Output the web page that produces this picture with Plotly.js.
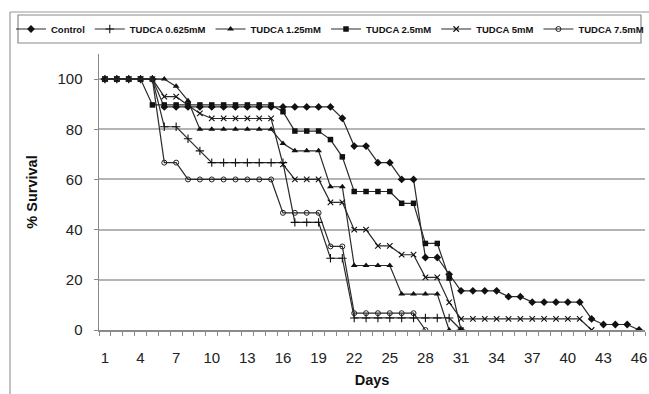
<!DOCTYPE html>
<html>
<head>
<meta charset="utf-8">
<script src="https://cdn.plot.ly/plotly-3.0.1.min.js"></script>
<style>html,body{margin:0;padding:0;background:#fff;}#chart{width:649px;height:394px;}</style>
</head>
<body>
<div id="chart"></div>
<script>
// ---- data ----
const days = [1,2,3,4,5,6,7,8,9,10,11,12,13,14,15,16,17,18,19,20,21,22,23,24,25,26,27,28,29,30,31,32,33,34,35,36,37,38,39,40,41,42,43,44,45,46];
const xTickLabels = [1,4,7,10,13,16,19,22,25,28,31,34,37,40,43,46];
const yTickLabels = [0,20,40,60,80,100];
const seriesNames = ["Control","TUDCA 0.625mM","TUDCA 1.25mM","TUDCA 2.5mM","TUDCA 5mM","TUDCA 7.5mM"];

const control = [100,100,100,100,100,
  88.9,88.9,88.9,88.9,88.9,88.9,88.9,88.9,88.9,88.9,88.9,88.9,88.9,88.9,88.9,
  84.4,73.3,73.3,66.7,66.7,60,60,28.9,28.9,22.2,
  15.6,15.6,15.6,15.6,13.3,13.3,11.1,11.1,11.1,11.1,11.1,4.4,2.2,2.2,2.2,0];
const tudca0625 = [100,100,100,100,100,81,81,76.2,71.4,
  66.7,66.7,66.7,66.7,66.7,66.7,66.7,42.9,42.9,42.9,28.6,28.6,
  4.8,4.8,4.8,4.8,4.8,4.8,4.8,4.8,4.8,0];
const tudca125 = [100,100,100,100,100,100,97.1,91.4,
  80,80,80,80,80,80,80,74.3,71.4,71.4,71.4,57.1,57.1,
  25.7,25.7,25.7,25.7,14.3,14.3,14.3,14.3,0];
const tudca25 = [100,100,100,100,
  89.7,89.7,89.7,89.7,89.7,89.7,89.7,89.7,89.7,89.7,89.7,
  87,79.3,79.3,79.3,75.9,69,55.2,55.2,55.2,55.2,50.5,50.5,34.5,34.5,20.7,0];
const tudca5 = [100,100,100,100,100,93,93,89.6,86.3,
  84.3,84.3,84.3,84.3,84.3,84.3,66,60,60,60,50.9,50.9,40,40,33.5,33.5,30,30,21,21,11,
  4.4,4.4,4.4,4.4,4.4,4.4,4.4,4.4,4.4,4.4,4.4,0];
const tudca75 = [100,100,100,100,100,66.7,66.7,
  60,60,60,60,60,60,60,60,46.7,46.7,46.7,46.7,33.3,33.3,
  6.7,6.7,6.7,6.7,6.7,6.7,0];

const allValues = [control, tudca0625, tudca125, tudca25, tudca5, tudca75];
const markerStyles = [
  {symbol:'diamond', size:6, color:'#111'},
  {symbol:'cross-thin', size:6, color:'#111', line:{width:1.1,color:'#111'}},
  {symbol:'triangle-up', size:6, color:'#111'},
  {symbol:'square', size:5.5, color:'#111'},
  {symbol:'x-thin', size:5.5, color:'#111', line:{width:1.1,color:'#111'}},
  {symbol:'circle-open', size:5, color:'#222', line:{width:1,color:'#222'}}
];

const traces = allValues.map((vals, i) => ({
  type:'scatter', mode:'lines+markers', name: seriesNames[i],
  x: days.slice(0, vals.length), y: vals,
  line:{color:'#2a2a2a', width:1.2},
  marker: markerStyles[i],
  hoverinfo:'skip'
}));

// layout geometry (pixels)
const L = 99, R = 4, T = 54, B = 64, W = 649, H = 394;
const pw = W - L - R, ph = H - T - B;
const px = v => (v - L) / pw;
const py = v => (H - B - v) / ph;

const minorVals = [];
for (let k = 0; k <= days.length; k++) minorVals.push(days[0] - 0.5 + k);

const layout = {
  width: W, height: H,
  margin:{l:L, r:R, t:T, b:B, pad:0},
  paper_bgcolor:'#fff', plot_bgcolor:'#fff',
  font:{family:'Liberation Sans, Arial, sans-serif', color:'#222'},
  showlegend:true,
  legend:{orientation:'h', x:px(18), xanchor:'left', y:py(29), yanchor:'middle',
    borderwidth:0, bgcolor:'rgba(0,0,0,0)',
    font:{family:'Liberation Sans, Arial, sans-serif', size:9.5, color:'#111', weight:'bold'},
    itemwidth:30, tracegroupgap:0},
  xaxis:{
    range:[0.5, 46.5], tickmode:'array', tickvals:xTickLabels, ticktext:xTickLabels.map(String),
    ticks:'', showgrid:false, zeroline:false,
    showline:true, linecolor:'#8a8a8a', linewidth:1.5,
    tickfont:{size:15, color:'#222'}, ticklabelstandoff:13,
    minor:{tickmode:'array', tickvals:minorVals, ticks:'outside', ticklen:4, tickcolor:'#8a8a8a', tickwidth:1, showgrid:false},
    title:{text:'<b>Days</b>', font:{size:14.5, color:'#111'}, standoff:10},
    automargin:false
  },
  yaxis:{
    range:[0, 110], tickmode:'array', tickvals:yTickLabels, ticktext:yTickLabels.map(String),
    ticks:'outside', ticklen:4, tickcolor:'#8a8a8a',
    showgrid:true, gridcolor:'#b4b4b4', gridwidth:2, zeroline:false,
    showline:true, linecolor:'#8a8a8a', linewidth:1.5,
    tickfont:{size:15, color:'#222'}, ticklabelstandoff:8,
    title:{text:'<b>% Survival</b>', font:{size:14.5, color:'#111'}, standoff:16},
    automargin:false
  },
  shapes:[
    {type:'line', xref:'paper', yref:'paper', x0:px(10), x1:px(10), y0:py(12), y1:py(400), line:{color:'#9a9a9a', width:1.2}},
    {type:'line', xref:'paper', yref:'paper', x0:px(10), x1:px(660), y0:py(12), y1:py(12), line:{color:'#9a9a9a', width:1.2}},
    {type:'rect', xref:'paper', yref:'paper', x0:px(18), x1:px(641), y0:py(15), y1:py(43), line:{color:'#8a8a8a', width:1.2}, fillcolor:'rgba(0,0,0,0)'}
  ]
};

Plotly.newPlot('chart', traces, layout, {displayModeBar:false, staticPlot:true});
</script>
</body>
</html>
